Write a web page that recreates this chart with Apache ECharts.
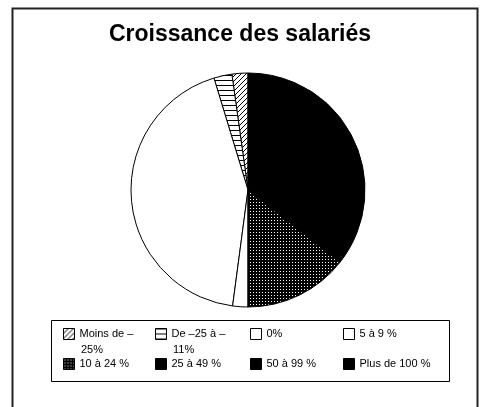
<!DOCTYPE html>
<html>
<head>
<meta charset="utf-8">
<script src="https://cdn.jsdelivr.net/npm/echarts@6/dist/echarts.min.js"></script>
<style>
  html, body { margin: 0; padding: 0; background: #fff; }
  #chart { width: 480px; height: 407px; }
</style>
</head>
<body>
<div id="chart"></div>
<script>
// categories, in legend order (drawn counter-clockwise from 12 o'clock)
var categories = ['Moins de -25%', 'De -25 à -11%', '0%', '5 à 9 %', '10 à 24 %', '25 à 49 %', '50 à 99 %', 'Plus de 100 %'];
// share of each category (%)
var shares = [2.2, 2.5, 43.2, 2.1, 14.4, 18.5, 10.6, 6.5];
// legend text as printed (first line / second line)
var legendLine1 = ['Moins de –', 'De –25 à –', '0%', '5 à 9 %', '10 à 24 %', '25 à 49 %', '50 à 99 %', 'Plus de 100 %'];
var legendLine2 = ['25%', '11%', '', '', '', '', '', ''];

// fill patterns, like the old printed Excel chart
function makePattern(size, draw) {
	var c = document.createElement('canvas');
	c.width = size; c.height = size;
	var ctx = c.getContext('2d');
	draw(ctx, size);
	return { image: c, repeat: 'repeat' };
}
var diagHatch = makePattern(5, function(ctx, s){
	ctx.fillStyle = '#fff'; ctx.fillRect(0, 0, s, s);
	ctx.fillStyle = '#000';
	for (var i = 0; i < s; i++) ctx.fillRect(i, s - 1 - i, 1, 1);
});
var horizHatch = makePattern(5, function(ctx, s){
	ctx.fillStyle = '#fff'; ctx.fillRect(0, 0, s, s);
	ctx.fillStyle = '#000'; ctx.fillRect(0, 0, s, 1);
});
var dotted = makePattern(3, function(ctx, s){
	ctx.fillStyle = '#000'; ctx.fillRect(0, 0, s, s);
	ctx.fillStyle = '#fff'; ctx.fillRect(1, 1, 1, 1);
});
var fills = [diagHatch, horizHatch, '#fff', '#fff', dotted, '#000', '#000', '#000'];

var data = categories.map(function(name, i){
	return { name: name, value: shares[i], itemStyle: { color: fills[i] } };
});

// legend grid inside the box
var colLeft = [63, 155, 250, 343];
var rowTop = [328, 358];
var legendFont = { color: '#000', fontSize: 11, fontFamily: 'Liberation Sans' };
var legends = categories.map(function(name, i){
	return {
		data: [name],
		left: colLeft[i % 4],
		top: rowTop[Math.floor(i / 4)],
		padding: 0,
		itemWidth: 11,
		itemHeight: 11,
		icon: 'rect',
		selectedMode: false,
		itemStyle: { borderColor: '#000', borderWidth: 1 },
		formatter: function(){ return legendLine1[i]; },
		textStyle: legendFont
	};
});
// wrapped second lines of the long legend labels
var wrapped = [];
legendLine2.forEach(function(t, i){
	if (!t) return;
	wrapped.push({
		type: 'text', silent: true,
		left: colLeft[i % 4] + 18, top: rowTop[Math.floor(i / 4)] + 16,
		style: { text: t, fill: '#000', font: '11px "Liberation Sans"' }
	});
});

var chart = echarts.init(document.getElementById('chart'), null, { renderer: 'canvas' });
chart.setOption({
	animation: false,
	backgroundColor: '#fff',
	title: {
		text: 'Croissance des salariés',
		left: 'center',
		top: 18,
		textStyle: { fontFamily: 'Liberation Sans', fontWeight: 'bold', fontSize: 23, color: '#000' }
	},
	legend: legends,
	graphic: [
		{ type: 'rect', shape: { x: 12.5, y: 8.5, width: 465, height: 420 },
		  style: { fill: null, stroke: '#222', lineWidth: 2 }, silent: true },
		{ type: 'rect', shape: { x: 51.5, y: 320.5, width: 398, height: 61 },
		  style: { fill: null, stroke: '#000', lineWidth: 1 }, silent: true }
	].concat(wrapped),
	series: [{
		type: 'pie',
		center: [248, 190],
		radius: 117,
		startAngle: 90,
		clockwise: false,
		label: { show: false },
		labelLine: { show: false },
		emphasis: { disabled: true },
		itemStyle: { borderColor: '#000', borderWidth: 1 },
		data: data
	}]
});
</script>
</body>
</html>
